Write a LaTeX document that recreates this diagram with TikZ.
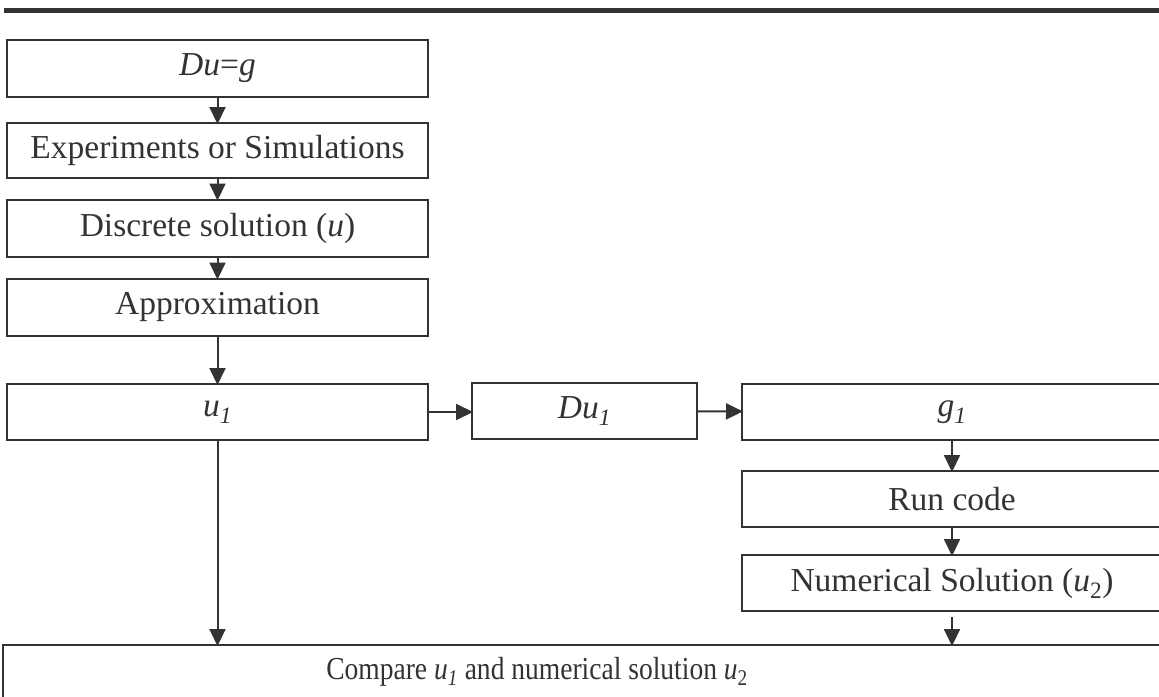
\documentclass[tikz,border=0pt]{standalone}
\usepackage{fontspec}
\usepackage{graphicx}
\setmainfont{Liberation Serif}
\usetikzlibrary{arrows.meta}
\definecolor{ink}{HTML}{333333}
\newcommand{\sub}[1]{\textsubscript{#1}}
\tikzset{
  x=1pt, y=-1pt,
  box/.style={draw=ink, line width=2pt, rectangle, inner sep=0pt, outer sep=0pt,
    text=ink, font=\fontsize{33.5}{38}\selectfont},
  arr/.style={draw=ink, line width=2pt, -{Triangle[length=17pt,width=16pt]}, shorten >=-1pt}
}
\begin{document}
\begin{tikzpicture}
  \useasboundingbox (0,0) rectangle (1159,696);
  \clip (0,0) rectangle (1159,696);
  % heading rule
  \draw[ink, line width=4.5pt] (4,10.5) -- (1159,10.5);
  % left column
  \node[box, minimum width=421pt, minimum height=57pt] (b1) at (217.5,68.5) {\textit{Du}=\textit{g}};
  \node[box, minimum width=421pt, minimum height=55pt] (b2) at (217.5,150.5) {Experiments or Simulations};
  \node[box, minimum width=421pt, minimum height=57pt] (b3) at (217.5,228) {Discrete solution (\textit{u})};
  \node[box, minimum width=421pt, minimum height=57pt] (b4) at (217.5,307) {Approximation};
  \node[box, minimum width=421pt, minimum height=56pt] (b5) at (217.5,412) {\textit{u}\sub{\textit{1}}};
  % middle
  \node[box, minimum width=225pt, minimum height=56pt] (d1) at (584.5,411) {\textit{Du}\sub{\textit{1}}};
  % right column
  \node[box, minimum width=420pt, minimum height=56pt] (g1) at (952,412) {\textit{g}\sub{\textit{1}}};
  \node[box, minimum width=420pt, minimum height=56pt] (rc) at (952,499) {Run code};
  \node[box, minimum width=420pt, minimum height=56pt] (ns) at (952,583) {Numerical Solution (\textit{u}\sub{2})};
  % bottom
  \node[box, minimum width=1200pt, minimum height=60pt, anchor=north west] (cmp) at (3,645) {};
  \node[text=ink, font=\fontsize{32}{36}\selectfont] (cmpt) at (537,672)
    {\scalebox{0.86}[1]{Compare \textit{u}\sub{\textit{1}} and numerical solution \textit{u}\sub{2}}};
  % connectors
  \draw[arr] (b1) -- (b2);
  \draw[arr] (b2) -- (b3);
  \draw[arr] (b3) -- (b4);
  \draw[arr] (b4) -- (b5);
  \draw[arr] (b5.east) -- (d1.west |- b5.east);
  \draw[arr] (d1) -- (g1);
  \draw[arr] (g1) -- (rc);
  \draw[arr] (rc) -- (ns);
  \draw[arr] (b5.south) -- (b5.south |- cmp.north);
  \draw[arr] (ns.south) ++(0,6) -- (ns.south |- cmp.north);
\end{tikzpicture}
\end{document}
